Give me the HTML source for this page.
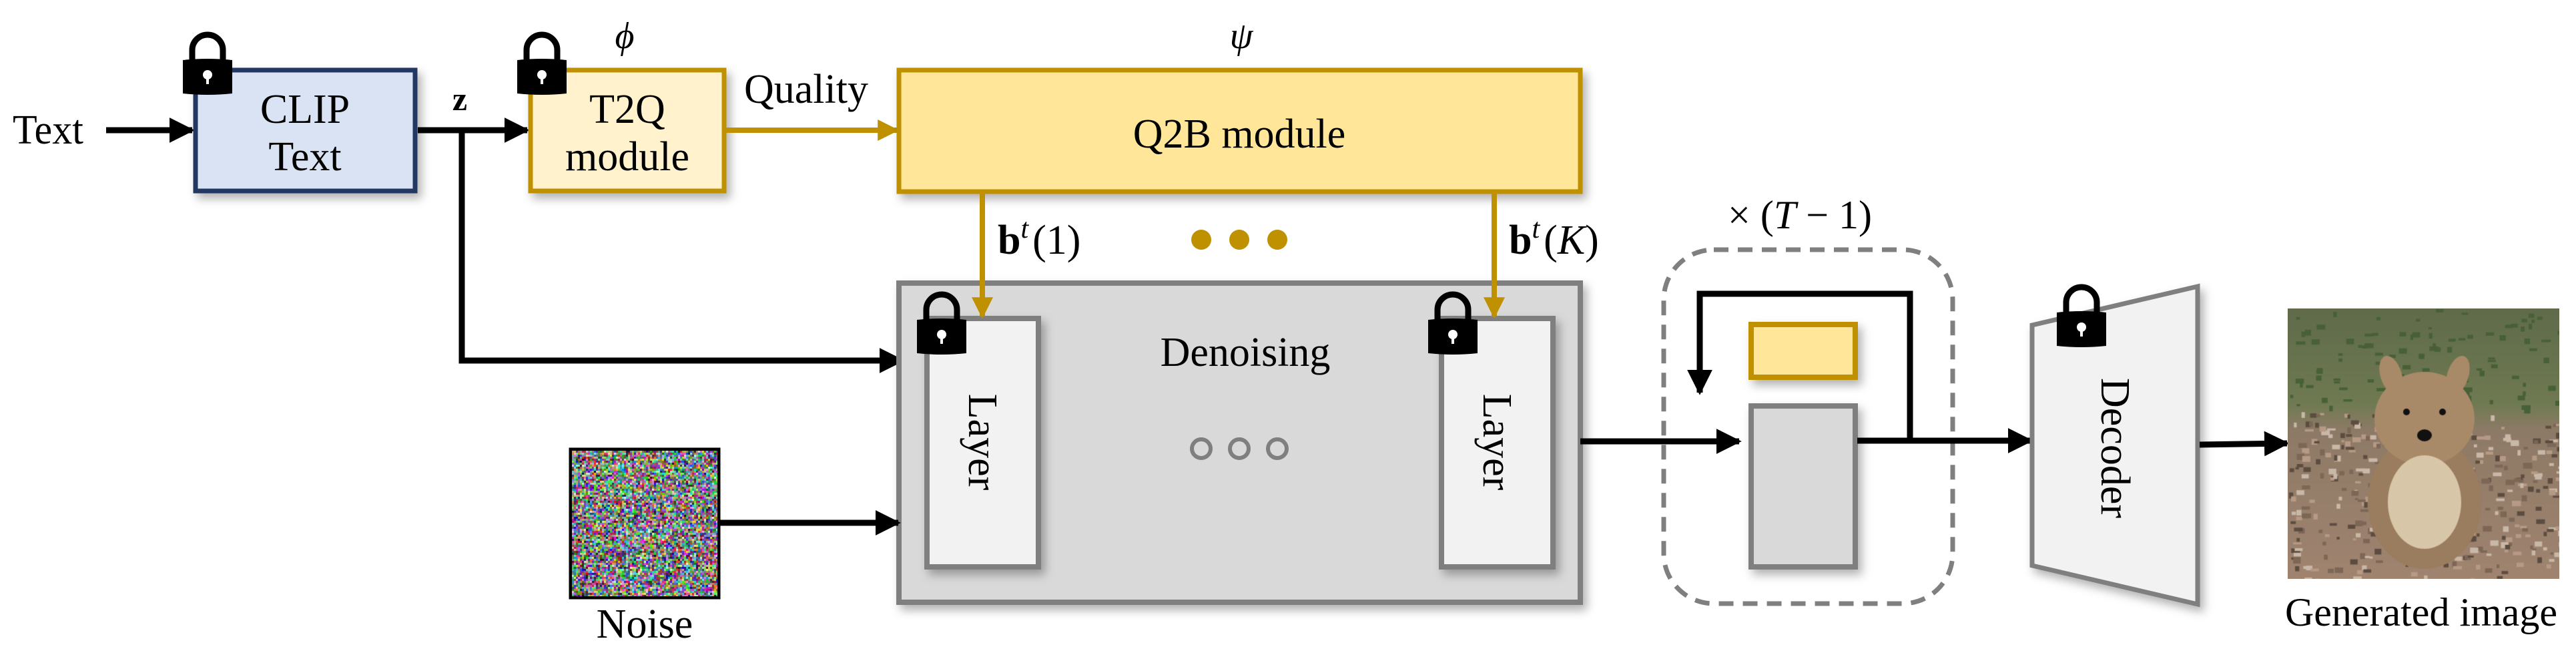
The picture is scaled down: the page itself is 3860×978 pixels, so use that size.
<!DOCTYPE html>
<html><head><meta charset="utf-8">
<style>
html,body{margin:0;padding:0;background:#fff;}
body{width:3860px;height:978px;overflow:hidden;position:relative;}
svg{position:absolute;left:0;top:0;}
text{font-family:"Liberation Serif",serif;fill:#000;}
canvas{position:absolute;}
</style></head>
<body>
<svg width="3860" height="978" viewBox="0 0 3860 978" xmlns="http://www.w3.org/2000/svg">
<defs>
<filter id="sh" x="-20%" y="-20%" width="150%" height="150%">
<feDropShadow dx="6" dy="8" stdDeviation="7" flood-color="#000" flood-opacity="0.3"/>
</filter>
<g id="lock">
<path d="M14,44 V27 A23,23 0 0 1 60,27 V44" fill="none" stroke="#000" stroke-width="9"/>
<path d="M0,42 Q37,38 74,42 V92 Q37,96 0,92 Z" fill="#000"/>
<circle cx="37" cy="64" r="7" fill="#fff"/>
<rect x="35" y="64" width="4" height="14" fill="#fff"/>
</g>
<marker id="ab" viewBox="0 0 10 10" refX="9" refY="5" markerWidth="4.2" markerHeight="4.2" orient="auto" markerUnits="strokeWidth"><path d="M0,0 L10,5 L0,10 Z" fill="#000"/></marker>
<marker id="ag" viewBox="0 0 10 10" refX="9" refY="5" markerWidth="4" markerHeight="4" orient="auto" markerUnits="strokeWidth"><path d="M0,0 L10,5 L0,10 Z" fill="#bf9000"/></marker>
</defs>

<text x="72" y="215" font-size="62" text-anchor="middle" textLength="106" lengthAdjust="spacingAndGlyphs">Text</text>
<line x1="159" y1="195" x2="288" y2="195" stroke="#000" stroke-width="9" marker-end="url(#ab)"/>

<rect x="293" y="105" width="329" height="181" fill="#dae3f3" stroke="#203864" stroke-width="7" filter="url(#sh)"/>
<text x="457" y="184" font-size="62" text-anchor="middle">CLIP</text>
<text x="457" y="255" font-size="62" text-anchor="middle">Text</text>
<use href="#lock" x="274" y="48"/>

<text x="689" y="165" font-size="50" font-weight="bold" text-anchor="middle">z</text>
<line x1="626" y1="195" x2="790" y2="195" stroke="#000" stroke-width="9" marker-end="url(#ab)"/>
<polyline points="692,195 692,540 1352,540" fill="none" stroke="#000" stroke-width="9" marker-end="url(#ab)"/>

<rect x="795" y="105" width="290" height="181" fill="#fff2cc" stroke="#bf9000" stroke-width="7" filter="url(#sh)"/>
<text x="940" y="184" font-size="62" text-anchor="middle">T2Q</text>
<text x="940" y="255" font-size="62" text-anchor="middle">module</text>
<use href="#lock" x="775" y="48"/>
<text x="936" y="72" font-size="56" font-style="italic" text-anchor="middle">ϕ</text>

<text x="1208" y="154" font-size="62" text-anchor="middle">Quality</text>
<line x1="1088" y1="195" x2="1344" y2="195" stroke="#bf9000" stroke-width="8" marker-end="url(#ag)"/>

<rect x="1347" y="105" width="1021" height="182" fill="#ffe699" stroke="#bf9000" stroke-width="7" filter="url(#sh)"/>
<text x="1857" y="221" font-size="62" text-anchor="middle">Q2B module</text>
<text x="1860" y="72" font-size="56" font-style="italic" text-anchor="middle">ψ</text>

<rect x="1347" y="424" width="1021" height="478" fill="#d9d9d9" stroke="#7f7f7f" stroke-width="8" filter="url(#sh)"/>
<text x="1866" y="548" font-size="62" text-anchor="middle">Denoising</text>
<g fill="none" stroke="#7f7f7f" stroke-width="6">
<circle cx="1800" cy="672" r="14"/><circle cx="1857" cy="672" r="14"/><circle cx="1914" cy="672" r="14"/>
</g>
<rect x="1389" y="477" width="167" height="372" fill="#f2f2f2" stroke="#7f7f7f" stroke-width="8" filter="url(#sh)"/>
<rect x="2160" y="477" width="167" height="372" fill="#f2f2f2" stroke="#7f7f7f" stroke-width="8" filter="url(#sh)"/>
<text transform="translate(1472,662) rotate(90)" font-size="62" text-anchor="middle" dy="20">Layer</text>
<text transform="translate(2243,662) rotate(90)" font-size="62" text-anchor="middle" dy="20">Layer</text>
<use href="#lock" x="1374" y="437"/>
<use href="#lock" x="2140" y="437"/>

<line x1="1472" y1="290" x2="1472" y2="474" stroke="#bf9000" stroke-width="8" marker-end="url(#ag)"/>
<line x1="2239" y1="290" x2="2239" y2="474" stroke="#bf9000" stroke-width="8" marker-end="url(#ag)"/>
<text x="1495" y="380" font-size="62"><tspan font-weight="bold">b</tspan><tspan font-style="italic" font-size="42" dy="-24">t</tspan><tspan dx="6" dy="24">(1)</tspan></text>
<text x="2261" y="380" font-size="62"><tspan font-weight="bold">b</tspan><tspan font-style="italic" font-size="42" dy="-24">t</tspan><tspan dx="6" dy="24">(</tspan><tspan font-style="italic">K</tspan><tspan>)</tspan></text>
<g fill="#bf9000"><circle cx="1800" cy="359" r="15"/><circle cx="1857" cy="359" r="15"/><circle cx="1914" cy="359" r="15"/></g>

<rect x="855" y="673" width="222" height="222" fill="none" stroke="#000" stroke-width="5"/>
<text x="966" y="955" font-size="62" text-anchor="middle">Noise</text>
<line x1="1079" y1="783" x2="1346" y2="783" stroke="#000" stroke-width="9" marker-end="url(#ab)"/>

<line x1="2368" y1="661" x2="2606" y2="661" stroke="#000" stroke-width="9" marker-end="url(#ab)"/>
<rect x="2493" y="374" width="433" height="530" rx="75" fill="none" stroke="#7f7f7f" stroke-width="7" stroke-dasharray="22 14"/>
<text x="2697" y="342" font-size="60" text-anchor="middle">× (<tspan font-style="italic">T</tspan> − 1)</text>
<rect x="2624" y="486" width="156" height="79" fill="#ffe699" stroke="#bf9000" stroke-width="8" filter="url(#sh)"/>
<rect x="2624" y="608" width="156" height="241" fill="#d9d9d9" stroke="#7f7f7f" stroke-width="8" filter="url(#sh)"/>
<polyline points="2862,660 2862,440 2547,440 2547,588" fill="none" stroke="#000" stroke-width="9" marker-end="url(#ab)"/>
<line x1="2783" y1="660" x2="3043" y2="660" stroke="#000" stroke-width="9" marker-end="url(#ab)"/>

<polygon points="3045,487 3293,429 3293,905 3045,847" fill="#f2f2f2" stroke="#7f7f7f" stroke-width="7" filter="url(#sh)"/>
<text transform="translate(3169,671) rotate(90)" font-size="62" text-anchor="middle" dy="20">Decoder</text>
<use href="#lock" x="3082" y="426"/>
<line x1="3296" y1="666" x2="3427" y2="664" stroke="#000" stroke-width="9" marker-end="url(#ab)"/>

<text x="3628" y="937" font-size="60" text-anchor="middle">Generated image</text>
</svg>
<canvas id="noise" width="218" height="218" style="left:857px;top:675px;width:218px;height:218px;"></canvas>
<canvas id="img" width="407" height="405" style="left:3428px;top:462px;width:407px;height:405px;"></canvas>
<script>
(function(){
var c=document.getElementById('noise').getContext('2d');
var s=3;
for(var y=0;y<218;y+=s)for(var x=0;x<218;x+=s){
var r=Math.random()*255|0,g=Math.random()*255|0,b=Math.random()*255|0;
c.fillStyle='rgb('+r+','+g+','+b+')';c.fillRect(x,y,s,s);}
var q=document.getElementById('img').getContext('2d');
var gr=q.createLinearGradient(0,0,0,405);
gr.addColorStop(0,'#5f6b4a');gr.addColorStop(0.35,'#6f7a52');gr.addColorStop(0.45,'#8d7a66');gr.addColorStop(1,'#a08470');
q.fillStyle=gr;q.fillRect(0,0,407,405);
for(var i=0;i<500;i++){q.fillStyle=['#b79a86','#7c6656','#c9b8a8','#5c4c40','#476038'][i%5];
var yy=i%5==4?Math.random()*150:150+Math.random()*255;
q.fillRect(Math.random()*407,yy,4+Math.random()*10,3+Math.random()*6);}
q.fillStyle='#9a7d5e';
q.beginPath();q.ellipse(205,290,85,100,0,0,7);q.fill();
q.fillStyle='#a98a68';
q.beginPath();q.ellipse(205,165,75,70,0,0,7);q.fill();
q.beginPath();q.ellipse(155,100,16,30,-0.3,0,7);q.fill();
q.beginPath();q.ellipse(255,100,16,30,0.3,0,7);q.fill();
q.fillStyle='#d8c6a8';q.beginPath();q.ellipse(205,290,55,70,0,0,7);q.fill();
q.fillStyle='#111';
q.beginPath();q.arc(178,155,5,0,7);q.fill();
q.beginPath();q.arc(232,155,5,0,7);q.fill();
q.beginPath();q.ellipse(205,190,11,9,0,0,7);q.fill();
})();
</script>
</body></html>
